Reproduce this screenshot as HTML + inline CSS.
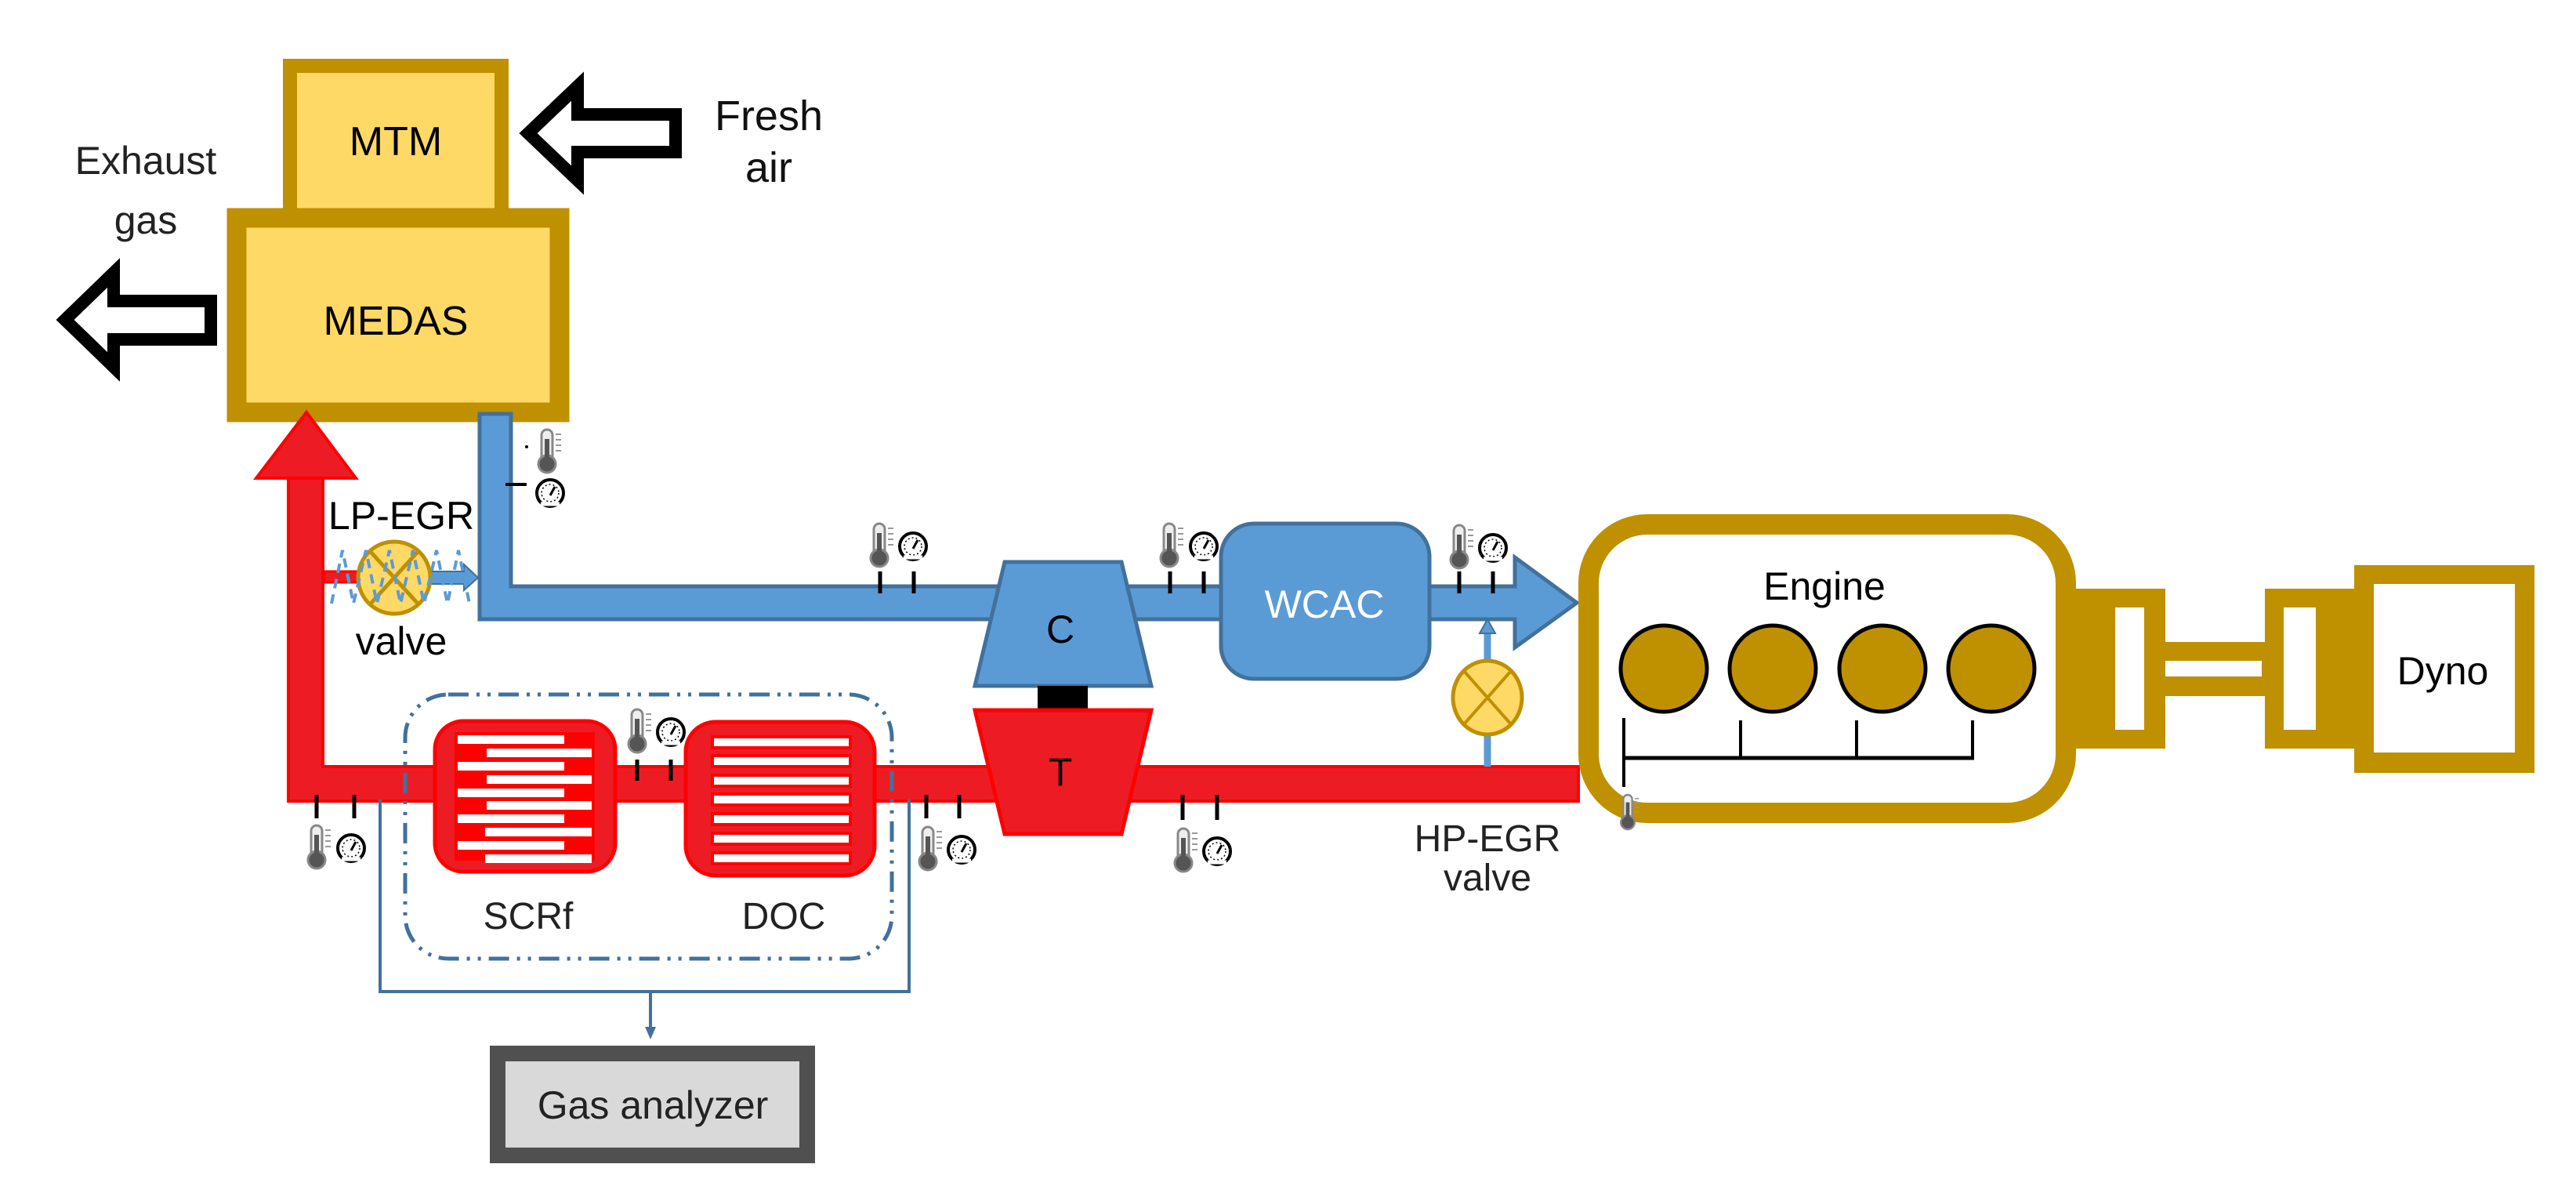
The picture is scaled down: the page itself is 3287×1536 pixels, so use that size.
<!DOCTYPE html>
<html><head><meta charset="utf-8"><style>
html,body{margin:0;padding:0;background:#fff}
svg{display:block}
text{font-family:"Liberation Sans",sans-serif}
</style></head><body>
<svg width="3287" height="1536" viewBox="0 0 3287 1536" xmlns="http://www.w3.org/2000/svg">
<defs>
<g id="th">
 <rect x="-7" y="0" width="14" height="42" rx="7" fill="#eee" stroke="#888" stroke-width="3"/>
 <circle cx="0" cy="44" r="11" fill="#555" stroke="#888" stroke-width="3"/>
 <rect x="-3" y="12" width="6" height="32" fill="#555"/>
 <g stroke="#999" stroke-width="2"><line x1="11" y1="6" x2="18" y2="6"/><line x1="11" y1="13" x2="18" y2="13"/><line x1="11" y1="20" x2="18" y2="20"/><line x1="11" y1="27" x2="18" y2="27"/></g>
</g>
<g id="ga">
 <circle r="17" fill="#fff" stroke="#000" stroke-width="4"/>
 <circle r="11" fill="none" stroke="#000" stroke-width="1.5" stroke-dasharray="2 3"/>
 <line x1="0" y1="3" x2="6" y2="-8" stroke="#000" stroke-width="3"/>
 <line x1="-12" y1="14" x2="12" y2="14" stroke="#fff" stroke-width="5"/>
</g>
</defs>

<!-- Fresh air arrow -->
<polygon points="674,170 737,110 737,146 862,146 862,194 737,194 737,230" fill="#fff" stroke="#000" stroke-width="16" stroke-linejoin="miter"/>
<text x="981" y="166" font-size="54" text-anchor="middle" fill="#111">Fresh</text>
<text x="981" y="232" font-size="54" text-anchor="middle" fill="#111">air</text>

<!-- Exhaust arrow -->
<polygon points="83,408 145,348 145,384 269,384 269,433 145,433 145,468" fill="#fff" stroke="#000" stroke-width="16"/>
<text x="186" y="222" font-size="50" text-anchor="middle" fill="#222">Exhaust</text>
<text x="186" y="298" font-size="50" text-anchor="middle" fill="#222">gas</text>

<!-- MTM -->
<rect x="370" y="84" width="270" height="192" fill="#FFD966" stroke="#BF9000" stroke-width="18"/>
<text x="505" y="198" font-size="52" text-anchor="middle" fill="#000">MTM</text>
<!-- MEDAS -->
<rect x="302" y="278" width="412" height="248" fill="#FFD966" stroke="#BF9000" stroke-width="25"/>
<text x="505" y="427" font-size="52" text-anchor="middle" fill="#000">MEDAS</text>

<!-- Red pipe: vertical + horizontal -->
<path d="M368,1022 L368,610 L412,610 L412,978 L2014,978 L2014,1022 Z" fill="#ED1C24" stroke="#FF0000" stroke-width="4"/>
<polygon points="391,526 454,610 327,610" fill="#ED1C24" stroke="#FF0000" stroke-width="4"/>

<!-- Blue pipe -->
<path d="M612,528 L652,528 L652,748 L1933,748 L1933,711 L2012,769 L1933,826 L1933,790 L612,790 Z" fill="#5B9BD5" stroke="#41719C" stroke-width="5"/>

<!-- LP-EGR -->
<rect x="414" y="729" width="42" height="14" fill="#ED1C24" stroke="#FF0000" stroke-width="3"/>
<polygon points="548,729 592,729 592,720 610,737 592,753 592,745 548,745" fill="#5B9BD5" stroke="#41719C" stroke-width="2"/>
<circle cx="503" cy="737" r="46" fill="#FFD966" stroke="#BF9000" stroke-width="5"/>
<line x1="472" y1="703" x2="534" y2="771" stroke="#BF9000" stroke-width="5"/>
<line x1="534" y1="703" x2="472" y2="771" stroke="#BF9000" stroke-width="5"/>
<g stroke="#5B9BD5" stroke-width="4" fill="none" stroke-dasharray="12 8">
<polyline points="423,770 437,702 451,770 467,702 481,770 497,702 511,770 527,702 541,770 557,702 571,770 585,702 599,770"/>
</g>
<text x="512" y="675" font-size="50" text-anchor="middle" fill="#000">LP-EGR</text>
<text x="512" y="835" font-size="50" text-anchor="middle" fill="#000">valve</text>

<!-- sensor near MEDAS -->
<circle cx="672" cy="570" r="2" fill="#000"/>
<use href="#th" x="698" y="548"/>
<line x1="645" y1="618" x2="672" y2="618" stroke="#000" stroke-width="4"/>
<use href="#ga" x="702" y="629"/>

<!-- Compressor -->
<polygon points="1282,717 1431,717 1469,875 1244,875" fill="#5B9BD5" stroke="#41719C" stroke-width="5"/>
<text x="1353" y="820" font-size="50" text-anchor="middle" fill="#000">C</text>
<rect x="1324" y="875" width="64" height="31" fill="#000"/>
<polygon points="1244,906 1469,906 1431,1064 1282,1064" fill="#ED1C24" stroke="#FF0000" stroke-width="5"/>
<text x="1353" y="1002" font-size="50" text-anchor="middle" fill="#000">T</text>

<!-- WCAC -->
<rect x="1558" y="668" width="266" height="198" rx="42" fill="#5B9BD5" stroke="#41719C" stroke-width="5"/>
<text x="1690" y="788" font-size="50" text-anchor="middle" fill="#fff">WCAC</text>

<!-- HP-EGR -->
<line x1="1898" y1="978" x2="1898" y2="805" stroke="#5B9BD5" stroke-width="9"/>
<polygon points="1888,808 1898,790 1908,808" fill="#5B9BD5" stroke="#41719C" stroke-width="2"/>
<ellipse cx="1898" cy="890" rx="44" ry="47" fill="#FFD966" stroke="#BF9000" stroke-width="5"/>
<line x1="1868" y1="856" x2="1928" y2="924" stroke="#BF9000" stroke-width="4"/>
<line x1="1928" y1="856" x2="1868" y2="924" stroke="#BF9000" stroke-width="4"/>
<text x="1898" y="1086" font-size="48" text-anchor="middle" fill="#222">HP-EGR</text>
<text x="1898" y="1136" font-size="48" text-anchor="middle" fill="#222">valve</text>

<!-- Engine -->
<rect x="2027" y="669" width="609" height="368" rx="75" fill="#fff" stroke="#BF9000" stroke-width="26"/>
<text x="2328" y="765" font-size="50" text-anchor="middle" fill="#000">Engine</text>
<g fill="#BF9000" stroke="#000" stroke-width="5">
<circle cx="2123" cy="853" r="55"/><circle cx="2262" cy="853" r="55"/><circle cx="2402" cy="853" r="55"/><circle cx="2541" cy="853" r="55"/>
</g>
<g stroke="#000" stroke-width="4">
<line x1="2072" y1="967" x2="2519" y2="967" stroke-width="5"/>
<line x1="2072" y1="916" x2="2072" y2="1004"/>
<line x1="2221" y1="919" x2="2221" y2="967"/>
<line x1="2369" y1="919" x2="2369" y2="967"/>
<line x1="2517" y1="919" x2="2517" y2="967"/>
</g>
<use href="#th" x="2077" y="1014" transform="translate(2077,1014) scale(0.8) translate(-2077,-1014)"/>

<!-- Coupling & Dyno -->
<rect x="2648" y="751" width="115" height="204" fill="#BF9000"/>
<rect x="2699" y="775" width="37" height="156" fill="#fff"/>
<rect x="2763" y="819" width="127" height="69" fill="#BF9000"/>
<rect x="2763" y="843" width="123" height="20" fill="#fff"/>
<rect x="2890" y="751" width="114" height="204" fill="#BF9000"/>
<rect x="2914" y="775" width="41" height="156" fill="#fff"/>
<rect x="3004" y="721" width="230" height="265" fill="#BF9000"/>
<rect x="3029" y="745" width="180" height="215" fill="#fff"/>
<text x="3117" y="873" font-size="50" text-anchor="middle" fill="#000">Dyno</text>

<!-- dash-dot box -->
<rect x="517" y="886" width="621" height="337" rx="55" fill="none" stroke="#41719C" stroke-width="5" stroke-dasharray="26 10 4 10 4 10"/>

<!-- SCRf -->
<rect x="555" y="920" width="230" height="192" rx="36" fill="#ED1C24" stroke="#FF0000" stroke-width="5"/>
<rect x="580" y="934" width="179" height="164" fill="#FF0000"/>
<g fill="#fff">
<rect x="584" y="938" width="136" height="11"/><rect x="621" y="955" width="134" height="11"/>
<rect x="584" y="972" width="136" height="11"/><rect x="621" y="989" width="134" height="11"/>
<rect x="584" y="1006" width="136" height="11"/><rect x="621" y="1022" width="134" height="11"/>
<rect x="584" y="1039" width="136" height="11"/><rect x="619" y="1056" width="136" height="11"/>
<rect x="584" y="1073" width="136" height="11"/><rect x="619" y="1090" width="136" height="11"/>
</g>
<!-- DOC -->
<rect x="875" y="921" width="241" height="196" rx="38" fill="#ED1C24" stroke="#FF0000" stroke-width="5"/>
<g fill="#fff" stroke="#FF0000" stroke-width="4">
<rect x="909" y="940" width="176" height="14"/><rect x="909" y="964" width="176" height="14"/>
<rect x="909" y="989" width="176" height="14"/><rect x="909" y="1013" width="176" height="14"/>
<rect x="909" y="1038" width="176" height="14"/><rect x="909" y="1063" width="176" height="14"/>
<rect x="909" y="1088" width="176" height="14"/>
</g>
<text x="674" y="1185" font-size="48" text-anchor="middle" fill="#222">SCRf</text>
<text x="1000" y="1185" font-size="48" text-anchor="middle" fill="#222">DOC</text>

<!-- sampling lines -->
<polyline points="485,1020 485,1265 1160,1265 1160,1020" fill="none" stroke="#41719C" stroke-width="4"/>
<line x1="830" y1="1265" x2="830" y2="1315" stroke="#41719C" stroke-width="4"/>
<polygon points="823,1310 837,1310 830,1326" fill="#41719C"/>

<!-- Gas analyzer -->
<rect x="635" y="1344" width="395" height="130" fill="#D9D9D9" stroke="#505050" stroke-width="20"/>
<text x="833" y="1427" font-size="50" text-anchor="middle" fill="#222">Gas analyzer</text>

<!-- tick pairs -->
<g stroke="#000" stroke-width="5">
<line x1="404" y1="1014" x2="404" y2="1044"/><line x1="452" y1="1014" x2="452" y2="1044"/>
<line x1="813" y1="969" x2="813" y2="996"/><line x1="856" y1="969" x2="856" y2="996"/>
<line x1="1182" y1="1014" x2="1182" y2="1044"/><line x1="1224" y1="1014" x2="1224" y2="1044"/>
<line x1="1509" y1="1014" x2="1509" y2="1046"/><line x1="1553" y1="1014" x2="1553" y2="1046"/>
<line x1="1123" y1="729" x2="1123" y2="757"/><line x1="1166" y1="729" x2="1166" y2="757"/>
<line x1="1493" y1="729" x2="1493" y2="757"/><line x1="1536" y1="729" x2="1536" y2="757"/>
<line x1="1862" y1="729" x2="1862" y2="757"/><line x1="1905" y1="729" x2="1905" y2="757"/>
</g>
<!-- sensor icons -->
<use href="#th" x="404" y="1053"/><use href="#ga" x="448" y="1082"/>
<use href="#th" x="813" y="905"/><use href="#ga" x="856" y="934"/>
<use href="#th" x="1184" y="1055"/><use href="#ga" x="1227" y="1084"/>
<use href="#th" x="1510" y="1057"/><use href="#ga" x="1553" y="1086"/>
<use href="#th" x="1122" y="668"/><use href="#ga" x="1165" y="697"/>
<use href="#th" x="1492" y="668"/><use href="#ga" x="1536" y="697"/>
<use href="#th" x="1862" y="670"/><use href="#ga" x="1905" y="699"/>
</svg>
</body></html>
